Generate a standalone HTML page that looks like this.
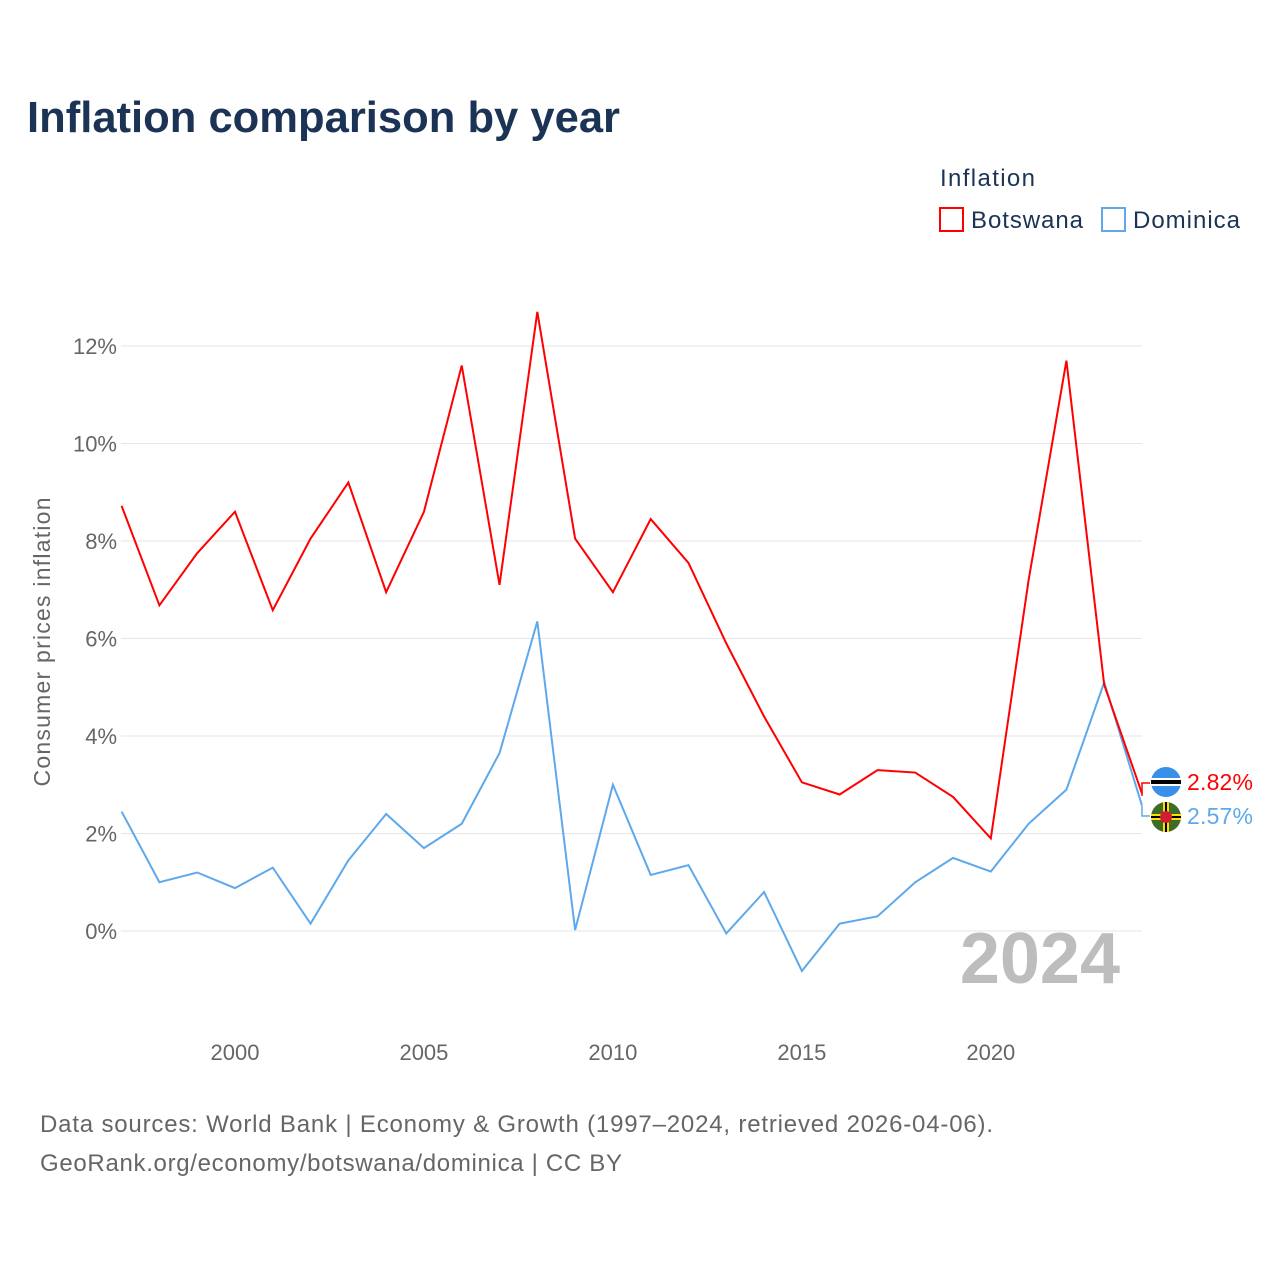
<!DOCTYPE html>
<html><head><meta charset="utf-8"><style>
body{margin:0;background:#fff;font-family:"Liberation Sans",sans-serif;}
svg text{font-family:"Liberation Sans",sans-serif;}
</style></head><body>
<svg width="1280" height="1280">
<text x="27" y="132" font-size="44" font-weight="bold" fill="#1b3354" textLength="593" lengthAdjust="spacingAndGlyphs">Inflation comparison by year</text>
<text x="940" y="186" font-size="24" fill="#1b3354" textLength="95">Inflation</text>
<g><rect x="940" y="208" width="23" height="23" fill="none" stroke="#f00" stroke-width="2"/><text x="971" y="228" font-size="24" fill="#1b3354" textLength="112">Botswana</text></g>
<g><rect x="1102" y="208" width="23" height="23" fill="none" stroke="#5ea8ec" stroke-width="2"/><text x="1133" y="228" font-size="24" fill="#1b3354" textLength="107">Dominica</text></g>
<g id="grid"></g>
<g id="xt"></g>
<text transform="translate(50,642) rotate(-90)" text-anchor="middle" font-size="23" fill="#666" textLength="289">Consumer prices inflation</text>
<text x="1120" y="983" text-anchor="end" font-size="72" font-weight="bold" fill="#bdbdbd">2024</text>
<g id="lines"></g>
<g>
<polyline points="1142,796 1142,783 1150,783" fill="none" stroke="#f00" stroke-width="1.5"/>
<polyline points="1142,806 1142,816 1150,816" fill="none" stroke="#5ea8ec" stroke-width="1.5"/>
<g><circle cx="1166" cy="782" r="15" fill="#3a8fe8"/><rect x="1151" y="778" width="30" height="8" fill="#fff"/><rect x="1151" y="780" width="30" height="4" fill="#000"/></g>
<g><circle cx="1166" cy="817" r="15" fill="#3d6b2a"/><rect x="1151" y="814" width="30" height="6" fill="#ffdd00"/><rect x="1151" y="816" width="30" height="2" fill="#000"/><rect x="1163" y="802" width="6" height="30" fill="#ffdd00"/><rect x="1165" y="802" width="2" height="30" fill="#000"/><circle cx="1166" cy="817" r="6" fill="#d41c30"/></g>
<text x="1187" y="790" font-size="23" fill="#f00" textLength="66">2.82%</text>
<text x="1187" y="824" font-size="23" fill="#5ea8ec" textLength="66">2.57%</text>
</g>
<text x="40" y="1132" font-size="24" fill="#666" textLength="953">Data sources: World Bank | Economy &amp; Growth (1997–2024, retrieved 2026-04-06).</text>
<text x="40" y="1171" font-size="24" fill="#666" textLength="582">GeoRank.org/economy/botswana/dominica | CC BY</text>
</svg>
<script>
const years=[1997,1998,1999,2000,2001,2002,2003,2004,2005,2006,2007,2008,2009,2010,2011,2012,2013,2014,2015,2016,2017,2018,2019,2020,2021,2022,2023,2024];
const botswana=[8.72,6.68,7.75,8.6,6.58,8.05,9.2,6.95,8.6,11.6,7.1,12.7,8.05,6.95,8.45,7.55,5.9,4.4,3.05,2.8,3.3,3.25,2.75,1.9,7.2,11.7,5.05,2.82];
const dominica=[2.45,1.0,1.2,0.88,1.3,0.15,1.45,2.4,1.7,2.2,3.65,6.35,0.02,3.0,1.15,1.35,-0.05,0.8,-0.82,0.15,0.3,1.0,1.5,1.22,2.2,2.9,5.1,2.57];
const yTicks=[0,2,4,6,8,10,12];
const xTicks=[2000,2005,2010,2015,2020];
const NS="http://www.w3.org/2000/svg";
function X(y){return 121.6+(y-1997)*(1142-121.6)/27;}
function Y(v){return 931-v*48.75;}
const grid=document.getElementById('grid');
yTicks.forEach(t=>{
 const l=document.createElementNS(NS,'line');
 l.setAttribute('x1',121);l.setAttribute('x2',1142);l.setAttribute('y1',Y(t));l.setAttribute('y2',Y(t));
 l.setAttribute('stroke','#e6e6e6');
 
 
 grid.appendChild(l);
 const tx=document.createElementNS(NS,'text');
 tx.setAttribute('x',117);tx.setAttribute('y',Y(t)+8);tx.setAttribute('text-anchor','end');
 tx.setAttribute('font-size','22');tx.setAttribute('fill','#666');tx.textContent=t+'%';
 
 
 grid.appendChild(tx);
});
const xt=document.getElementById('xt');
xTicks.forEach(t=>{
 const tx=document.createElementNS(NS,'text');
 tx.setAttribute('x',X(t));tx.setAttribute('y',1060);tx.setAttribute('text-anchor','middle');
 tx.setAttribute('font-size','22');tx.setAttribute('fill','#666');tx.textContent=t;
 
 
 xt.appendChild(tx);
});
const lines=document.getElementById('lines');
[[dominica,'#5ea8ec','dominica-line'],[botswana,'#f00','botswana-line']].forEach(([d,c,n])=>{
 const p=document.createElementNS(NS,'polyline');
 p.setAttribute('points',d.map((v,i)=>X(years[i])+','+Y(v)).join(' '));
 p.setAttribute('fill','none');p.setAttribute('stroke',c);p.setAttribute('stroke-width','2');
 
 
 lines.appendChild(p);
});
</script>
</body></html>
